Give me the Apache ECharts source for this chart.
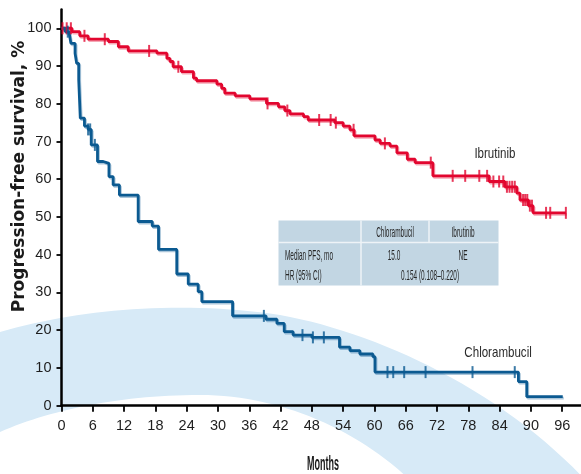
<!DOCTYPE html>
<html><head><meta charset="utf-8">
<script src="https://cdn.jsdelivr.net/npm/echarts@6/dist/echarts.min.js"></script>
<style>html,body{margin:0;padding:0;background:#fff}#c{width:581px;height:474px}</style>
</head><body><div id="c"></div>
<script>
// ---- data ----
const xTicks = [0, 6, 12, 18, 24, 30, 36, 42, 48, 54, 60, 66, 72, 78, 84, 90, 96];
const yTicks = [0, 10, 20, 30, 40, 50, 60, 70, 80, 90, 100];

const ibrTime = [0, 2.0, 3.5, 5.1, 9.0, 10.9, 12.8, 18.3, 20.2, 20.8, 21.4, 23.0, 25.3, 25.9, 29.8, 30.7, 31.3, 33.3, 36.1, 39.3, 41.6, 42.8, 43.8, 46.4, 47.3, 52.4, 54.0, 55.3, 56.1, 60.1, 61.1, 63.0, 64.3, 66.3, 67.8, 71.2, 82.0, 85.0, 87.3, 87.9, 89.5, 90.4, 96.7];
const ibrSurv = [100, 99.1, 98.0, 97.1, 96.5, 95.1, 94.0, 93.4, 92.0, 91.2, 89.8, 88.5, 86.8, 86.1, 85.2, 84.1, 82.8, 82.1, 81.3, 80.1, 79.2, 78.2, 77.3, 76.6, 75.7, 75.0, 74.1, 73.1, 71.5, 70.4, 69.5, 68.8, 67.0, 65.3, 64.4, 60.9, 59.4, 58.0, 56.3, 54.5, 53.0, 51.1, 51.1];
const ibrCensor = [0.2, 1.0, 1.8, 4.4, 8.3, 16.8, 22.4, 39.5, 43.3, 49.4, 51.6, 52.6, 56.0, 62.0, 70.8, 75.0, 77.4, 80.1, 81.6, 82.8, 83.9, 84.7, 85.4, 85.9, 86.4, 86.9, 88.5, 88.9, 89.3, 89.8, 90.2, 92.9, 93.7, 96.7];

const chlTime = [0, 0.7, 1.5, 1.8, 2.6, 2.9, 3.3, 3.6, 4.4, 5.1, 5.7, 6.9, 8.0, 9.1, 9.9, 11.1, 14.7, 17.4, 18.6, 22.1, 24.3, 26.2, 26.9, 32.8, 39.2, 41.3, 42.7, 44.4, 48.0, 53.3, 55.3, 57.2, 59.7, 60.1, 87.6, 89.2, 96.1];
const chlSurv = [100, 99.1, 98.5, 96.0, 93.4, 90.7, 86.3, 76.2, 74.1, 73.2, 69.1, 64.7, 64.2, 60.7, 58.5, 55.8, 48.8, 47.6, 41.4, 34.9, 32.2, 30.2, 27.6, 23.8, 22.9, 21.8, 19.6, 18.7, 18.1, 15.5, 14.6, 13.7, 13.0, 8.9, 6.4, 2.4, 2.4];
const chlCensor = [1.2, 5.1, 5.5, 6.4, 38.8, 46.2, 48.2, 50.3, 62.5, 63.6, 65.7, 69.8, 78.8, 86.9];

const seriesNames = ['Ibrutinib', 'Chlorambucil'];
const seriesLabelAt = [[83.1, 66.7], [83.7, 14.1]];
const tableHeader = ['Chlorambucil', 'Ibrutinib'];
const tableRow1 = ['Median PFS, mo', '15.0', 'NE'];
const tableRow2 = ['HR (95% CI)', '0.154 (0.108\u20130.220)'];

// ---- helpers ----
function stepValue(times, surv, t) {
  let v = surv[0];
  for (let i = 0; i < times.length; i++) { if (times[i] <= t) v = surv[i]; else break; }
  return v;
}
const pairs = (a, b) => a.map((t, i) => [t, b[i]]);
const censorPts = (c, times, surv) => c.map(t => [t, stepValue(times, surv, t)]);

// decorative background swoosh outline (pixel space), cubic bezier segments
function bez(p0, p1, p2, p3, n) {
  const out = [];
  for (let i = 0; i <= n; i++) {
    const t = i / n, u = 1 - t;
    out.push([u*u*u*p0[0] + 3*u*u*t*p1[0] + 3*u*t*t*p2[0] + t*t*t*p3[0],
              u*u*u*p0[1] + 3*u*u*t*p1[1] + 3*u*t*t*p2[1] + t*t*t*p3[1]]);
  }
  return out;
}
const swoosh = [].concat(
  bez([0, 332], [80, 309], [180, 300], [280, 315], 30),
  bez([280, 315], [380, 333], [505, 392], [590, 485], 30),
  bez([415, 485], [360, 430], [280, 395], [200, 395], 30),
  bez([200, 395], [120, 395], [50, 410], [0, 432], 30)
);

const RED = '#e2062f', BLUE = '#0b5a91';
const SANS = '"Liberation Sans", Arial, sans-serif';
const chart = echarts.init(document.getElementById('c'), null, { renderer: 'canvas' });

function tText(x, y, text, align) {
  return { type: 'text', x: x, y: y, scaleX: 0.43, z: 20,
    style: { text: text, font: '15px ' + SANS, fill: '#262626', textAlign: align, textVerticalAlign: 'middle' } };
}

const graphics = [
  { type: 'polygon', z: -10, silent: true, shape: { points: swoosh }, style: { fill: '#d7eaf7' } },
  { type: 'rect', z: 15, shape: { x: 278.5, y: 220.5, width: 220, height: 65 }, style: { fill: '#c2d6e3' } },
  { type: 'line', z: 16, shape: { x1: 278.5, y1: 242.5, x2: 498.5, y2: 242.5 }, style: { stroke: '#eef3f7', lineWidth: 1.5 } },
  { type: 'line', z: 16, shape: { x1: 361, y1: 220.5, x2: 361, y2: 285.5 }, style: { stroke: '#eef3f7', lineWidth: 1.5 } },
  { type: 'line', z: 16, shape: { x1: 429, y1: 220.5, x2: 429, y2: 242.5 }, style: { stroke: '#eef3f7', lineWidth: 1.5 } },
  tText(395, 233, tableHeader[0], 'center'),
  tText(463, 233, tableHeader[1], 'center'),
  tText(285, 256, tableRow1[0], 'left'),
  tText(394, 256, tableRow1[1], 'center'),
  tText(463, 256, tableRow1[2], 'center'),
  tText(285, 276, tableRow2[0], 'left'),
  tText(430, 276, tableRow2[1], 'center'),
  { type: 'text', x: 20, y: 176.5, rotation: Math.PI / 2, z: 20,
    style: { text: 'Progression-free survival, %', font: 'bold 17px "DejaVu Sans", sans-serif', fill: '#1a1a1a', textAlign: 'center', textVerticalAlign: 'middle' } },
  { type: 'text', x: 323, y: 464, scaleX: 0.45, z: 20,
    style: { text: 'Months', font: 'bold 20px ' + SANS, fill: '#1a1a1a', textAlign: 'center', textVerticalAlign: 'middle' } }
];

const option = {
  animation: false,
  backgroundColor: '#fff',
  grid: { left: 61.5, right: 0, top: 9.4, bottom: 68.3 },
  xAxis: {
    type: 'value', min: 0, max: 99.6,
    axisLine: { show: true, lineStyle: { color: '#000', width: 2.5 } },
    axisTick: { show: true, customValues: xTicks, length: 6, lineStyle: { color: '#000', width: 1.8 } },
    axisLabel: { customValues: xTicks, margin: 13, fontFamily: SANS, fontSize: 14.5, color: '#1e1e1e' },
    splitLine: { show: false }
  },
  yAxis: {
    type: 'value', min: 0, max: 105,
    axisLine: { show: true, lineStyle: { color: '#000', width: 2.5 } },
    axisTick: { show: true, customValues: yTicks, length: 5, lineStyle: { color: '#000', width: 1.8 } },
    axisLabel: { customValues: yTicks, margin: 10, fontFamily: SANS, fontSize: 14.5, color: '#1e1e1e' },
    splitLine: { show: false }
  },
  graphic: graphics,
  series: [
    { name: seriesNames[0], type: 'line', step: 'end', symbol: 'none', z: 5,
      data: pairs(ibrTime, ibrSurv),
      lineStyle: { color: RED, width: 2.8, shadowColor: 'rgba(226,6,47,0.35)', shadowOffsetX: 1, shadowOffsetY: 1.5, shadowBlur: 0 } },
    { name: 'IbrutinibCensor', type: 'scatter', symbol: 'rect', symbolSize: [2, 12], z: 6,
      data: censorPts(ibrCensor, ibrTime, ibrSurv), itemStyle: { color: RED } },
    { name: seriesNames[1], type: 'line', step: 'end', symbol: 'none', z: 5,
      data: pairs(chlTime, chlSurv),
      lineStyle: { color: BLUE, width: 2.8, shadowColor: 'rgba(11,90,145,0.35)', shadowOffsetX: 1, shadowOffsetY: 1.5, shadowBlur: 0 } },
    { name: 'ChlorambucilCensor', type: 'scatter', symbol: 'rect', symbolSize: [2, 12], z: 6,
      data: censorPts(chlCensor, chlTime, chlSurv), itemStyle: { color: BLUE } }
  ]
};
chart.setOption(option);

// curve name labels, anchored in data coordinates
const labelEls = seriesNames.map((n, i) => {
  const p = chart.convertToPixel({ gridIndex: 0 }, seriesLabelAt[i]);
  return { type: 'text', x: p[0], y: p[1], scaleX: 0.77, z: 20,
    style: { text: n, font: '15px ' + SANS, fill: '#2a2a2a', textAlign: 'center', textVerticalAlign: 'middle' } };
});
chart.setOption({ graphic: graphics.concat(labelEls) });
</script></body></html>
